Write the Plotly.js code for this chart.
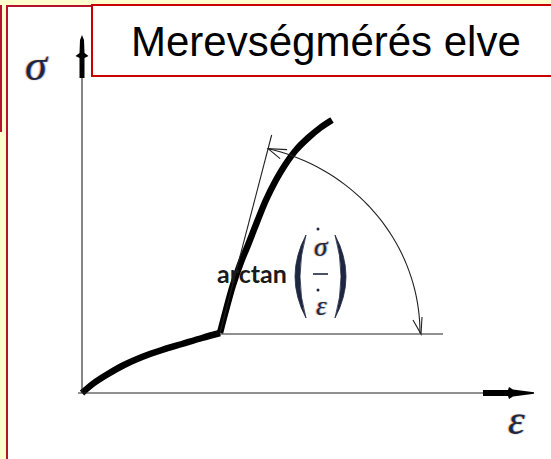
<!DOCTYPE html>
<html>
<head>
<meta charset="utf-8">
<script src="https://cdn.plot.ly/plotly-3.0.1.min.js"></script>
<style>
  html, body { margin: 0; padding: 0; background: #FFFCCD; }
  #chart { width: 551px; height: 459px; }
</style>
</head>
<body>
<div id="chart"></div>
<script>
// Schematic stress–strain curve: a soft initial branch, then a stiff branch
// whose initial slope gives the stiffness arctan(dσ/dε).
const strain = [0, 12, 26, 42, 60, 80, 100, 120, 138, 144, 151, 159, 166, 175, 184, 194, 203, 214, 226, 238, 250];
const stress = [0, 10, 19, 28, 36, 43, 49, 55, 60, 83, 108, 131, 148, 171, 193, 213, 228, 243, 255, 265, 273];
const kinkIndex = 8;

const titleText = 'Merevségmérés elve';
const yLabel = 'σ';
const xLabel = 'ε';
const slopeLabel = 'arctan';

const ink = '#1e2640';
const fringe = '-1px 0px 1px rgba(235,150,40,0.85), 1px 0px 1px rgba(60,140,235,0.85)';

// Split the curve into its two branches so the kink stays sharp.
const lowX = strain.slice(0, kinkIndex + 1), lowY = stress.slice(0, kinkIndex + 1);
const upX = strain.slice(kinkIndex), upY = stress.slice(kinkIndex);

const kx = strain[kinkIndex], ky = stress[kinkIndex];
const slope = (stress[kinkIndex + 1] - ky) / (strain[kinkIndex + 1] - kx);
const tanTopY = 198;
const tanTopX = kx + tanTopY / slope;

// Elliptic arc from the horizontal reference to the tangent line.
const rx = 200, ry = 190;
const tEnd = Math.atan2(tanTopY / ry, (tanTopX - kx) / rx);
let arc = '';
for (let i = 0; i <= 40; i++) {
  const t = tEnd * i / 40;
  arc += (i ? ' L' : 'M') + (kx + rx * Math.cos(t)).toFixed(2) + ',' + (ky + ry * Math.sin(t)).toFixed(2);
}
const ax = kx + rx * Math.cos(tEnd), ay = ky + ry * Math.sin(tEnd);
const bx = kx + rx, by = ky;

const thin = { color: '#222222', width: 1.1 };

const traces = [
  { x: lowX, y: lowY, mode: 'lines', line: { color: '#000', width: 6.5, shape: 'spline', smoothing: 1 }, hoverinfo: 'skip' },
  { x: upX, y: upY, mode: 'lines', line: { color: '#000', width: 6.5, shape: 'spline', smoothing: 1 }, hoverinfo: 'skip' }
];

const shapes = [
  // white panel with dark red frame
  { type: 'rect', layer: 'below', x0: -75, x1: 480, y0: 387, y1: -80, fillcolor: '#ffffff', line: { color: '#B5122B', width: 2 } },
  // edge of the page frame behind
  { type: 'line', layer: 'below', x0: -81, x1: -81, y0: 388, y1: 261, line: { color: '#B5122B', width: 2 } },
  // axes
  { type: 'line', x0: 0, x1: 0, y0: 0, y1: 316, line: thin },
  { type: 'line', x0: -4, x1: 402, y0: 0, y1: 0, line: thin },
  { type: 'path', path: 'M-2.5,315 L2.5,315 L2.5,335 L6.5,337 L2.5,340 L2,353 L0,358 L-2,353 L-2.5,340 L-6.5,337 L-2.5,335 Z', fillcolor: '#000', line: { width: 0 } },
  { type: 'path', path: 'M401,-3 L426,-3 L427,-6 L431,-3.5 L452,-0.8 L452,0.8 L431,3.5 L427,6 L426,3 L401,3 Z', fillcolor: '#000', line: { width: 0 } },
  // horizontal reference and tangent at the kink
  { type: 'line', x0: kx, x1: 361, y0: ky - 1, y1: ky - 1, line: thin },
  { type: 'line', x0: kx, x1: tanTopX, y0: ky, y1: ky + tanTopY, line: thin },
  // angle arc with arrowheads at both ends
  { type: 'path', path: arc, line: thin },
  { type: 'path', path: `M${ax + 19},${ay - 1} L${ax},${ay} L${ax + 12},${ay - 10}`, line: thin },
  { type: 'path', path: `M${bx - 7},${by + 13} L${bx + 1},${by - 1} L${bx + 2},${by + 16}`, line: thin },
  // parentheses around the fraction
  { type: 'path', path: 'M224,158 Q202,116.5 224,75 Q212,116.5 224,158 Z', fillcolor: ink, line: { color: ink, width: 0.8 } },
  { type: 'path', path: 'M253,158 Q275,116.5 253,75 Q265,116.5 253,158 Z', fillcolor: ink, line: { color: ink, width: 0.8 } },
  // fraction bar and rate dots
  { type: 'line', x0: 231, x1: 246, y0: 119, y1: 119, line: { color: ink, width: 1.6 } },
  { type: 'circle', x0: 234.5, x1: 237.5, y0: 162.5, y1: 165.5, fillcolor: ink, line: { width: 0 } },
  { type: 'circle', x0: 234.5, x1: 237.5, y0: 101.5, y1: 104.5, fillcolor: ink, line: { width: 0 } },
  // title box, starting right of the y axis arrow
  { type: 'rect', x0: 10, x1: 480, y0: 388, y1: 317, fillcolor: '#ffffff', line: { color: '#C80000', width: 2 } }
];

const annotations = [
  { x: 243.5, y: 352, text: titleText, showarrow: false, xanchor: 'center', yanchor: 'middle',
    font: { family: 'Liberation Sans, Arial, sans-serif', size: 42, color: '#000' } },
  { x: -45, y: 328, text: yLabel, showarrow: false, xanchor: 'center', yanchor: 'middle',
    font: { family: 'Liberation Serif, serif', size: 44, style: 'italic', color: ink, shadow: fringe } },
  { x: 434, y: -27, text: xLabel, showarrow: false, xanchor: 'center', yanchor: 'middle',
    font: { family: 'Liberation Serif, serif', size: 42, style: 'italic', color: ink, shadow: fringe } },
  { x: 207, y: 120, text: slopeLabel, showarrow: false, xanchor: 'right', yanchor: 'middle',
    font: { family: 'Lato, sans-serif', size: 25, weight: 700, color: '#1a1a1a' } },
  { x: 239, y: 146, text: 'σ', showarrow: false, xanchor: 'center', yanchor: 'middle',
    font: { family: 'Liberation Serif, serif', size: 27, style: 'italic', color: ink, shadow: fringe } },
  { x: 239, y: 87, text: 'ε', showarrow: false, xanchor: 'center', yanchor: 'middle',
    font: { family: 'Liberation Serif, serif', size: 27, style: 'italic', color: ink, shadow: fringe } }
];

const layout = {
  width: 551, height: 459,
  margin: { l: 0, r: 0, t: 0, b: 0, pad: 0 },
  paper_bgcolor: '#FFFCCD',
  plot_bgcolor: 'rgba(0,0,0,0)',
  showlegend: false,
  xaxis: { range: [-82, 469], visible: false, fixedrange: true },
  yaxis: { range: [-66, 393], visible: false, fixedrange: true },
  shapes: shapes,
  annotations: annotations
};

Plotly.newPlot('chart', traces, layout, { staticPlot: true, displayModeBar: false });
</script>
</body>
</html>
